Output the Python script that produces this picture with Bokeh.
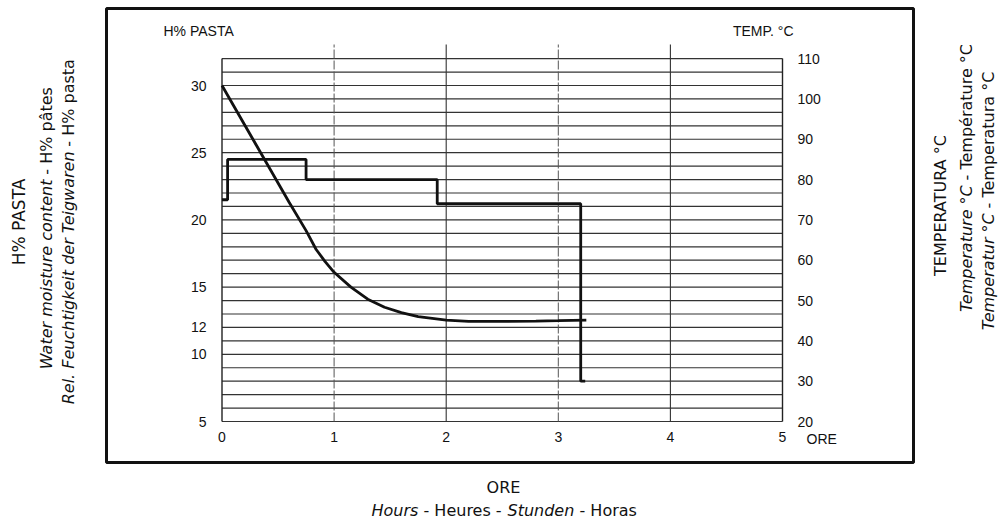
import math
from bokeh.plotting import figure
from bokeh.layouts import row, column
from bokeh.models import Range1d, LinearAxis, FixedTicker, Label
from bokeh.core.properties import value
from bokeh.embed import file_html
from bokeh.resources import INLINE

# ---------------- data ----------------
hours = [0, 0.2, 0.4, 0.6, 0.75, 0.84, 0.92, 1.0, 1.15, 1.3, 1.45, 1.6, 1.75, 2.0, 2.2, 2.5, 2.8, 3.0, 3.25]
moisture = [30, 27.1, 24.2, 21.3, 19.2, 17.8, 16.9, 16.1, 15.0, 14.1, 13.5, 13.1, 12.8, 12.55, 12.45, 12.45, 12.47, 12.5, 12.55]
temp_hours = [0, 0.05, 0.75, 1.92, 3.2, 3.24]
temp_values = [75, 85, 80, 74, 30, 30]
x_ticks = [0, 1, 2, 3, 4, 5]
h_ticks = [5, 10, 12, 15, 20, 25, 30]
t_ticks = [20, 30, 40, 50, 60, 70, 80, 90, 100, 110]
h_grid = list(range(5, 33))
x_grid_solid = [2, 4]
x_grid_dashed = [1, 3]
H_MIN, H_MAX = 5, 32
T_MIN, T_MAX = 20, 110

# ---------------- layout (page pixels) ----------------
PX_HOUR = 112.1          # px per hour
PX_H = 13.44             # px per moisture unit
X0_PX, Y5_PX = 221.5, 421.0   # page position of hour 0 / moisture 5
BOX_L, BOX_R, BOX_T, BOX_B = 106, 913, 8, 462   # outer framed box = main frame
MAIN_L, MAIN_W, MAIN_H = 100, 820, 470
LEFT_W, RIGHT_W, BOTTOM_H = MAIN_L, 1001 - MAIN_L - MAIN_W, 55

x_start = (BOX_L - X0_PX) / PX_HOUR
x_end = (BOX_R - X0_PX) / PX_HOUR
y_start = H_MIN + (Y5_PX - BOX_B) / PX_H
y_end = H_MIN + (Y5_PX - BOX_T) / PX_H


def to_temp(h):
    return T_MIN + (h - H_MIN) * (T_MAX - T_MIN) / (H_MAX - H_MIN)


def X(px):
    return (px - X0_PX) / PX_HOUR


def Y(py):
    return H_MIN + (Y5_PX - py) / PX_H


INK = "#111111"
TICK_FONT = "Liberation Sans"
TICK_SIZE = "14px"

p = figure(frame_width=BOX_R - BOX_L, frame_height=BOX_B - BOX_T,
           min_border_left=BOX_L - MAIN_L, min_border_right=MAIN_L + MAIN_W - BOX_R,
           min_border_top=BOX_T, min_border_bottom=MAIN_H - BOX_B,
           x_range=Range1d(x_start, x_end), y_range=Range1d(y_start, y_end),
           output_backend="svg", toolbar_location=None)
p.extra_y_ranges = {"temp": Range1d(to_temp(y_start), to_temp(y_end))}
p.outline_line_color = INK
p.outline_line_width = 3
p.xgrid.visible = False
p.ygrid.visible = False
p.background_fill_color = "white"
p.border_fill_color = "white"


def style_axis(ax, ticks, standoff):
    ax.ticker = FixedTicker(ticks=ticks)
    ax.axis_line_color = None
    ax.major_tick_line_color = None
    ax.minor_tick_line_color = None
    ax.major_tick_in = 0
    ax.major_tick_out = 0
    ax.major_label_standoff = standoff
    ax.major_label_text_font = TICK_FONT
    ax.major_label_text_font_size = TICK_SIZE
    ax.major_label_text_color = INK


# tick labels sit inside the framed box, next to the chart grid
style_axis(p.xaxis[0], x_ticks, -(BOX_B - 431))
style_axis(p.yaxis[0], h_ticks, -(206 - BOX_L))
rax = LinearAxis(y_range_name="temp")
style_axis(rax, t_ticks, -(BOX_R - 797))
p.add_layout(rax, "right")

# chart paper grid
top_ext = Y(44)
p.segment(x0=x_ticks[0], x1=x_ticks[-1], y0=h_grid, y1=h_grid, line_color="#333333", line_width=1.2)
p.segment(x0=x_grid_solid, x1=x_grid_solid, y0=H_MIN, y1=top_ext, line_color="#333333", line_width=1.1)
p.segment(x0=x_grid_dashed, x1=x_grid_dashed, y0=H_MIN, y1=top_ext, line_color="#555555",
          line_width=1.0, line_dash="9 2")
p.segment(x0=[x_ticks[0], x_ticks[-1]], x1=[x_ticks[0], x_ticks[-1]], y0=H_MIN, y1=H_MAX,
          line_color="#222222", line_width=1.4)

# curves
p.line(hours, moisture, line_color=INK, line_width=2.8)
p.step(temp_hours, temp_values, mode="after", y_range_name="temp", line_color=INK, line_width=2.8)

# small labels inside the box
for px, py, t, al in [(163, 30, "H% PASTA", "left"), (793, 30, "TEMP. °C", "right"), (806, 438, "ORE", "left")]:
    p.add_layout(Label(x=X(px), y=Y(py), text=t, text_font=TICK_FONT, text_font_size=TICK_SIZE,
                       text_color=INK, text_align=al, text_baseline="middle"))

# ---------------- title panels ----------------
TF = "DejaVu Sans"
TS = "16px"
R = math.pi / 2


def panel(w, h):
    q = figure(width=w, height=h, x_range=Range1d(0, w), y_range=Range1d(0, h), min_border=0,
               output_backend="svg", toolbar_location=None)
    q.axis.visible = False
    q.grid.visible = False
    q.outline_line_color = None
    q.background_fill_color = "white"
    q.border_fill_color = "white"
    return q


def txt(q, h, x, y, text, angle, align, italic=False, size=TS):
    q.text(x=[x], y=[h - y], text=[text], angle=angle, text_align=align, text_baseline="middle",
           text_font=value(TF), text_font_size=size, text_color=INK,
           text_font_style="italic" if italic else "normal")


left = panel(LEFT_W, MAIN_H)
txt(left, MAIN_H, 18, 221, "H% PASTA", R, "center", size="17px")
txt(left, MAIN_H, 46, 177, "Water moisture content", R, "right", True)
txt(left, MAIN_H, 46, 172, "- H% pâtes", R, "left")
txt(left, MAIN_H, 68, 148, "Rel. Feuchtigkeit der Teigwaren", R, "right", True)
txt(left, MAIN_H, 68, 143, "- H% pasta", R, "left")

right = panel(RIGHT_W, MAIN_H)
ox = MAIN_L + MAIN_W
txt(right, MAIN_H, 940 - ox, 204, "TEMPERATURA °C", R, "center")
txt(right, MAIN_H, 966 - ox, 183, "Temperature °C", R, "right", True)
txt(right, MAIN_H, 966 - ox, 178, "- Température °C", R, "left")
txt(right, MAIN_H, 988 - ox, 212, "Temperatur °C", R, "right", True)
txt(right, MAIN_H, 988 - ox, 207, "- Temperatura °C", R, "left")

bottom = panel(1001, BOTTOM_H)
oy = MAIN_H
txt(bottom, BOTTOM_H, 503, 487 - oy, "ORE", 0, "center")
txt(bottom, BOTTOM_H, 371, 510 - oy, "Hours", 0, "left", True)
txt(bottom, BOTTOM_H, 423, 510 - oy, "- Heures -", 0, "left")
txt(bottom, BOTTOM_H, 507, 510 - oy, "Stunden", 0, "left", True)
txt(bottom, BOTTOM_H, 579, 510 - oy, "- Horas", 0, "left")

layout = column(row(left, p, right), bottom)
open("out.html", "w").write(file_html(layout, INLINE))
